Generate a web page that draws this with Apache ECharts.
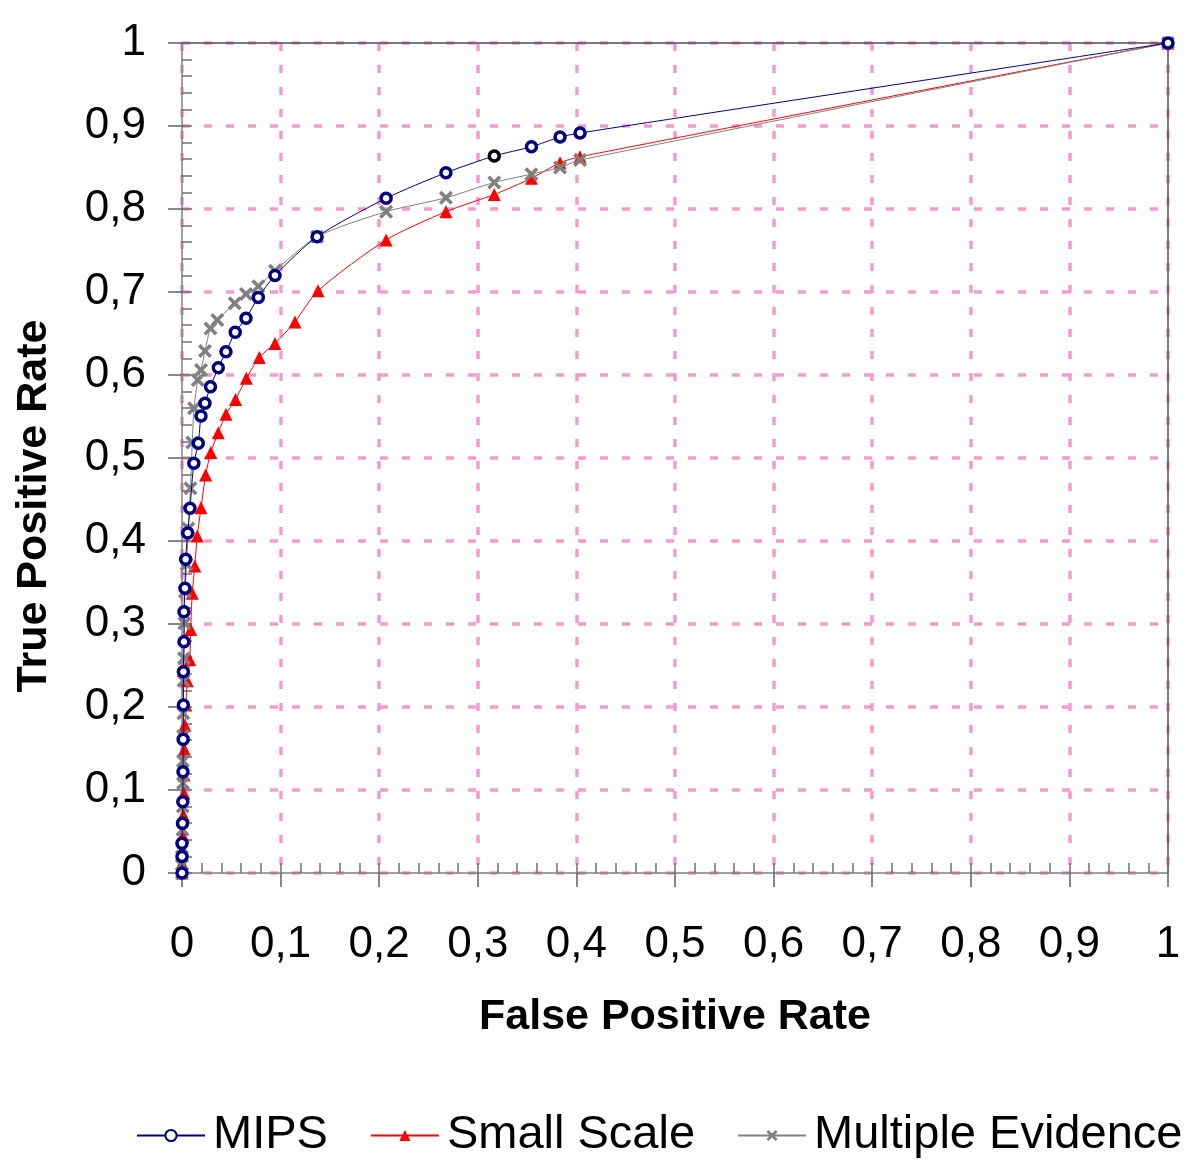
<!DOCTYPE html>
<html>
<head>
<meta charset="utf-8">
<script src="https://cdn.jsdelivr.net/npm/echarts@6/dist/echarts.min.js"></script>
<style>html,body{margin:0;padding:0;background:#fff}#c{width:1200px;height:1168px}</style>
</head>
<body>
<div id="c"></div>
<script>
// Series names
const seriesNames = ['MIPS', 'Small Scale', 'Multiple Evidence'];

// MIPS (false positive rate, true positive rate)
const mipsFPR = [0, 0, 0, 0.0005, 0.0008, 0.001, 0.0012, 0.0014, 0.0014, 0.002, 0.002, 0.003, 0.0037, 0.0058, 0.0081, 0.012, 0.0165, 0.0193, 0.0233, 0.0289, 0.0368, 0.0446, 0.054, 0.0649, 0.0774, 0.0943, 0.137, 0.207, 0.2677, 0.3167, 0.3544, 0.3834, 0.4037, 1];
const mipsTPR = [0, 0.0198, 0.0357, 0.0598, 0.0859, 0.122, 0.161, 0.2024, 0.2425, 0.2786, 0.3148, 0.343, 0.378, 0.4096, 0.4394, 0.4936, 0.5177, 0.5506, 0.5659, 0.5859, 0.6088, 0.628, 0.6514, 0.6683, 0.6935, 0.720, 0.7666, 0.8129, 0.8437, 0.8639, 0.875, 0.8867, 0.8916, 1];

// Small Scale
const smallFPR = [0, 0, 0.0005, 0.0008, 0.0014, 0.002, 0.002, 0.0024, 0.003, 0.0039, 0.0054, 0.0079, 0.0088, 0.0104, 0.013, 0.0155, 0.0193, 0.024, 0.0292, 0.0368, 0.0446, 0.0543, 0.0653, 0.0784, 0.0943, 0.1146, 0.138, 0.207, 0.2677, 0.3167, 0.3544, 0.3834, 0.4037, 1];
const smallTPR = [0, 0.012, 0.028, 0.045, 0.07, 0.096, 0.118, 0.149, 0.178, 0.2024, 0.2317, 0.257, 0.2935, 0.337, 0.37, 0.406, 0.44, 0.4795, 0.5067, 0.5305, 0.5526, 0.5706, 0.596, 0.6212, 0.638, 0.664, 0.7016, 0.7627, 0.7968, 0.8175, 0.837, 0.8557, 0.863, 1];

// Multiple Evidence
const multiFPR = [0, 0, 0, 0.0005, 0.0008, 0.001, 0.001, 0.0012, 0.0014, 0.0016, 0.002, 0.0024, 0.003, 0.0047, 0.0064, 0.0086, 0.0104, 0.0122, 0.016, 0.0193, 0.0233, 0.0289, 0.0358, 0.0535, 0.0649, 0.0774, 0.0943, 0.137, 0.207, 0.2677, 0.3167, 0.3544, 0.3834, 0.4037, 1];
const multiTPR = [0, 0.01, 0.02, 0.052, 0.08, 0.108, 0.135, 0.165, 0.1924, 0.2317, 0.2586, 0.301, 0.339, 0.372, 0.415, 0.4635, 0.5187, 0.5598, 0.594, 0.606, 0.629, 0.656, 0.6663, 0.6863, 0.6976, 0.707, 0.7257, 0.7666, 0.7968, 0.8135, 0.832, 0.842, 0.850, 0.859, 1];

// Highlighted (black) MIPS point index
const mipsHighlightIndex = 29;

// Axis tick values
const tickValues = [0, 0.1, 0.2, 0.3, 0.4, 0.5, 0.6, 0.7, 0.8, 0.9, 1];
const xTitle = 'False Positive Rate';
const yTitle = 'True Positive Rate';

function pairs(xs, ys) { return xs.map((x, i) => [x, ys[i]]); }
const fmt = v => {
  const t = tickValues.find(k => Math.abs(k - v) < 1e-9);
  return t === undefined ? '' : String(t).replace('.', ',');
};

const mipsData = pairs(mipsFPR, mipsTPR).map((p, i) =>
  i === mipsHighlightIndex ? { value: p, itemStyle: { borderColor: '#000000' } } : p);

const crossPath = 'path://M0,1.8 L1.8,0 L5,3.2 L8.2,0 L10,1.8 L6.8,5 L10,8.2 L8.2,10 L5,6.8 L1.8,10 L0,8.2 L3.2,5 Z';

const FONT = '"Liberation Sans", Arial, sans-serif';
const grid = { left: 182, right: 32, top: 43, bottom: 295, containLabel: false };
const pinkSplit = { show: true, lineStyle: { color: '#f59bcb', width: 3.5, type: [8, 14] } };

const chart = echarts.init(document.getElementById('c'), null, { renderer: 'canvas' });
chart.setOption({
  backgroundColor: '#ffffff',
  animation: false,
  grid: grid,
  xAxis: [
    {
      type: 'value', min: 0, max: 1, interval: 0.1, position: 'bottom',
      name: xTitle, nameLocation: 'middle', nameGap: 123,
      nameTextStyle: { fontFamily: FONT, fontWeight: 'bold', fontSize: 43, color: '#000' },
      axisLine: { show: true, onZero: false, lineStyle: { color: '#808080', width: 1.5 } },
      axisTick: { show: true, inside: false, length: 14, lineStyle: { color: '#606060', width: 1.5 } },
      axisLabel: { show: true, margin: 50, fontFamily: FONT, fontSize: 44, color: '#000', formatter: fmt, showMinLabel: true, showMaxLabel: true },
      splitLine: pinkSplit
    },
    {
      type: 'value', min: 0, max: 1, interval: 0.02, position: 'bottom',
      axisLine: { show: false, onZero: false },
      axisTick: { show: true, inside: true, length: 10, lineStyle: { color: '#707070', width: 1.5 } },
      axisLabel: { show: false }, splitLine: { show: false }
    },
    {
      type: 'value', min: 0, max: 1, position: 'top',
      axisLine: { show: true, onZero: false, lineStyle: { color: '#505050', width: 1.5 } },
      axisTick: { show: false }, axisLabel: { show: false }, splitLine: { show: false }
    }
  ],
  yAxis: [
    {
      type: 'value', min: 0, max: 1, interval: 0.1, position: 'left',
      name: yTitle, nameLocation: 'middle', nameGap: 126,
      nameTextStyle: { fontFamily: FONT, fontWeight: 'bold', fontSize: 43, color: '#000', padding: [0, 96, 0, 0] },
      axisLine: { show: true, onZero: false, lineStyle: { color: '#808080', width: 1.5 } },
      axisTick: { show: true, inside: false, length: 14, lineStyle: { color: '#606060', width: 1.5 } },
      axisLabel: { show: true, margin: 36, fontFamily: FONT, fontSize: 44, color: '#000', formatter: fmt, showMinLabel: true, showMaxLabel: true },
      splitLine: pinkSplit
    },
    {
      type: 'value', min: 0, max: 1, interval: 0.02, position: 'left',
      axisLine: { show: false, onZero: false },
      axisTick: { show: true, inside: true, length: 10, lineStyle: { color: '#707070', width: 1.5 } },
      axisLabel: { show: false }, splitLine: { show: false }
    },
    {
      type: 'value', min: 0, max: 1, position: 'right',
      axisLine: { show: true, onZero: false, lineStyle: { color: '#505050', width: 1.5 } },
      axisTick: { show: false }, axisLabel: { show: false }, splitLine: { show: false }
    }
  ],
  legend: {
    bottom: 4, left: 131,
    itemWidth: 68, itemHeight: 14, itemGap: 42,
    textStyle: { fontFamily: FONT, fontSize: 47, color: '#000', padding: [0, 0, 0, 3] },
    data: seriesNames
  },
  series: [
    {
      name: seriesNames[1], type: 'line', xAxisIndex: 0, yAxisIndex: 0,
      data: pairs(smallFPR, smallTPR), smooth: 0.25,
      symbol: 'triangle', symbolSize: 13, showAllSymbol: true,
      lineStyle: { color: '#ff0000', width: 1 },
      itemStyle: { color: '#ff0000' }, z: 3
    },
    {
      name: seriesNames[2], type: 'line', xAxisIndex: 0, yAxisIndex: 0,
      data: pairs(multiFPR, multiTPR), smooth: 0.25,
      symbol: crossPath, symbolSize: 14, showAllSymbol: true,
      lineStyle: { color: '#808080', width: 1 },
      itemStyle: { color: '#808080' }, z: 4
    },
    {
      name: seriesNames[0], type: 'line', xAxisIndex: 0, yAxisIndex: 0,
      data: mipsData, smooth: 0.25,
      symbol: 'circle', symbolSize: 10, showAllSymbol: true,
      lineStyle: { color: '#000080', width: 1 },
      itemStyle: { color: '#ffffff', borderColor: '#000080', borderWidth: 3.5 }, z: 5
    }
  ]
});
</script>
</body>
</html>
